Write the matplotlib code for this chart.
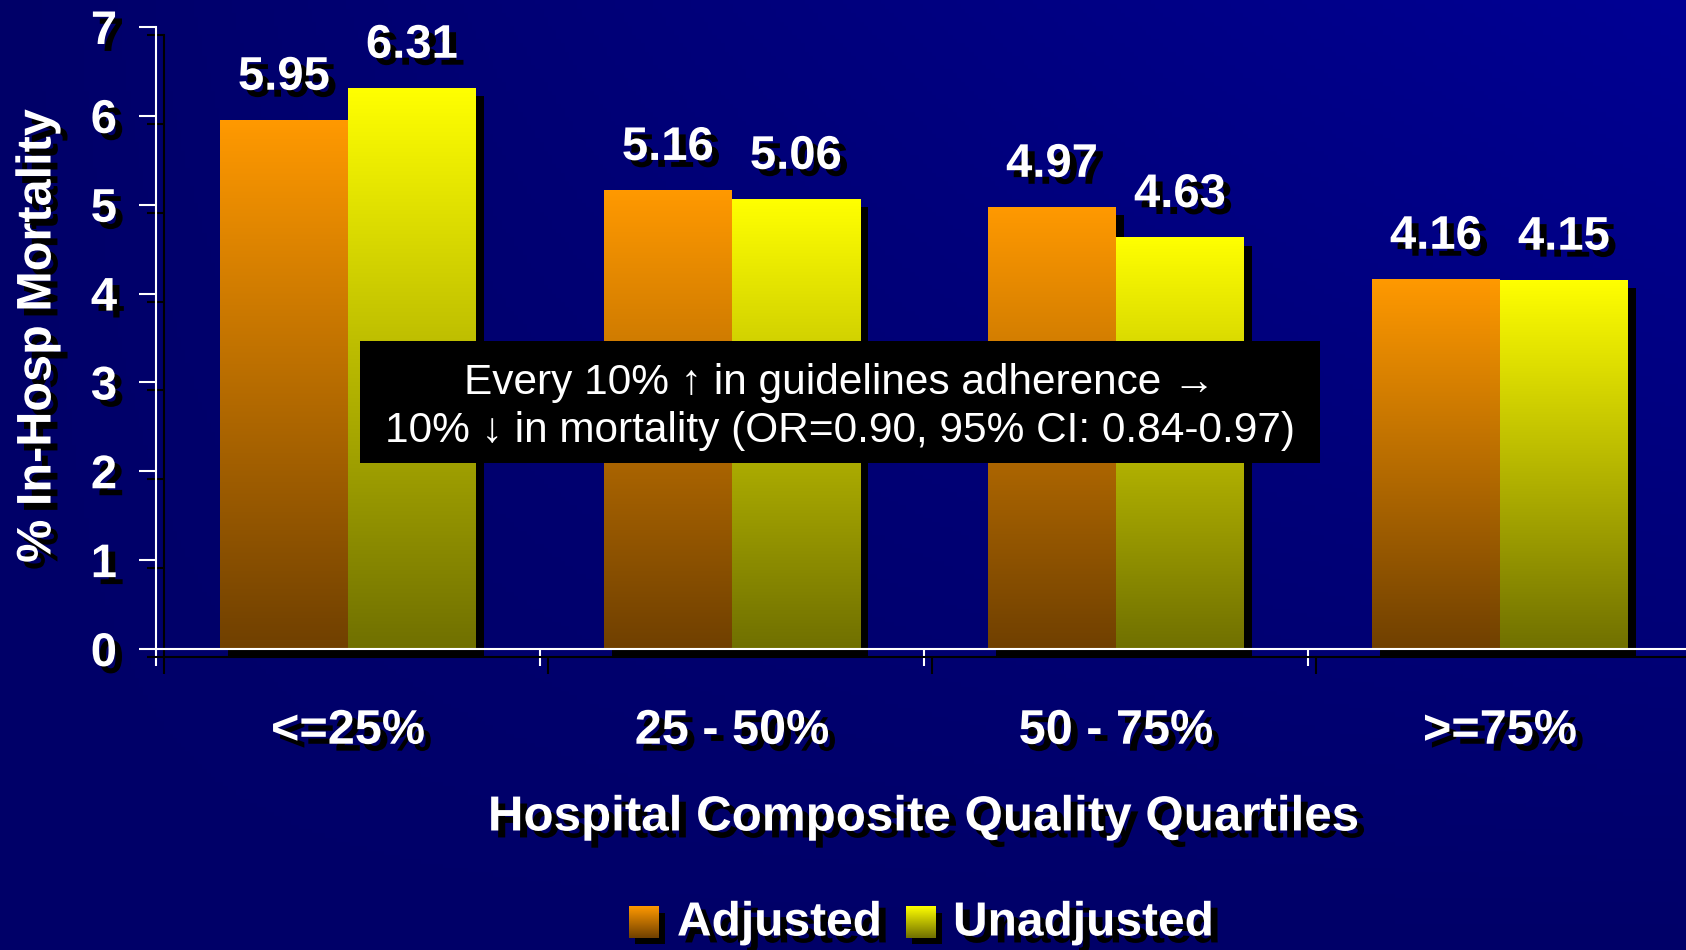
import numpy as np
import matplotlib
matplotlib.use("Agg")
import matplotlib.pyplot as plt
import matplotlib.patheffects as pe
from matplotlib.patches import Rectangle
from matplotlib.colors import to_rgb

# data
quartiles = ["<=25%", "25 - 50%", "50 - 75%", ">=75%"]
adjusted = [5.95, 5.16, 4.97, 4.16]
unadjusted = [6.31, 5.06, 4.63, 4.15]
series_names = ["Adjusted", "Unadjusted"]
y_ticks = [0, 1, 2, 3, 4, 5, 6, 7]
note = ("Every 10% \u2191 in guidelines adherence \u2192\n"
        "10% \u2193 in mortality (OR=0.90, 95% CI: 0.84-0.97)")

plt.rcParams["font.family"] = ["Liberation Sans", "DejaVu Sans"]
plt.rcParams["font.weight"] = "bold"

W, H, DPI = 1686, 950, 100
fig = plt.figure(figsize=(W / DPI, H / DPI), dpi=DPI)

text_shadow = [pe.SimplePatchShadow(offset=(5, -5), shadow_rgbFace="black", alpha=1), pe.Normal()]
line_shadow = [pe.SimpleLineShadow(offset=(5.8, -5.8), shadow_color="black", alpha=1), pe.Normal()]
bar_shadow = [pe.SimplePatchShadow(offset=(5.8, -5.8), shadow_rgbFace="black", alpha=1), pe.Normal()]

# navy background, lighter towards the top right
bg = fig.add_axes([0, 0, 1, 1], zorder=-10)
gx, gy = np.meshgrid(np.linspace(0, 1, 400), np.linspace(1, 0, 220))
blue = (0x68 + 0x2C * gx * gy) / 255
bg.imshow(np.dstack([np.zeros_like(blue), np.zeros_like(blue), blue]),
          extent=(0, 1, 0, 1), aspect="auto")
bg.axis("off")


def ramp(top, bottom):
    t = np.array(to_rgb(top))
    b = np.array(to_rgb(bottom))
    s = np.linspace(0, 1, 256)[:, None]
    return (t * (1 - s) + b * s)[:, None, :]


orange_grad = ramp("#FF9900", "#704000")
yellow_grad = ramp("#FFFF00", "#707000")

ax = fig.add_axes([156 / W, 301 / H, 1536 / W, 622 / H])
ax.patch.set_visible(False)

x = np.arange(len(quartiles)) + 0.5
bw = 1 / 3
bars_adj = ax.bar(x - bw / 2, adjusted, bw, color="#FF9900", zorder=2, clip_on=False)
bars_unadj = ax.bar(x + bw / 2, unadjusted, bw, color="#FFFF00", zorder=2, clip_on=False)

for bars, grad in [(bars_adj, orange_grad), (bars_unadj, yellow_grad)]:
    for r in bars:
        r.set_path_effects(bar_shadow)
        x0, w, h = r.get_x(), r.get_width(), r.get_height()
        ax.imshow(grad, extent=(x0, x0 + w, 0, h), aspect="auto", zorder=2.5,
                  interpolation="bilinear")
        ax.annotate(f"{h:.2f}", (x0 + w / 2, h), xytext=(0, 22), textcoords="offset points",
                    ha="center", va="baseline", fontsize=34, color="white",
                    path_effects=text_shadow, zorder=5)

ax.set_xlim(0, 4)
ax.set_ylim(0, 7)

for s in ["top", "right"]:
    ax.spines[s].set_visible(False)
for s in ["left", "bottom"]:
    ax.spines[s].set_color("white")
    ax.spines[s].set_linewidth(1.5)
    ax.spines[s].set_zorder(3)
    ax.spines[s].set_path_effects(line_shadow)

ax.set_yticks(y_ticks)
ax.set_xticks(range(5))
ax.set_xticklabels([])
ax.set_xticks(x, minor=True)
ax.set_xticklabels(quartiles, minor=True)
ax.tick_params(which="major", length=12, width=1.5, color="white", direction="out")
ax.tick_params(axis="x", which="minor", length=0, pad=43, labelsize=35, labelcolor="white")
ax.tick_params(axis="y", labelsize=34, labelcolor="white", pad=16)

for t in ax.xaxis.get_major_ticks() + ax.yaxis.get_major_ticks():
    t.tick1line.set_path_effects(line_shadow)
for lab in ax.get_yticklabels() + ax.get_xticklabels(minor=True):
    lab.set_path_effects(text_shadow)

# note box
ax.add_patch(Rectangle((0.531, 2.093), 2.5, 1.373, facecolor="black", edgecolor="none",
                       zorder=6))
ax.text(1.781, 2.72, note, ha="center", va="center", fontsize=30.5, fontweight="normal",
        color="white", linespacing=1.27, zorder=7)

fig.text(38 / W, 1 - 336 / H, "% In-Hosp Mortality", rotation=90, ha="center", va="center",
         fontsize=35, color="white", path_effects=text_shadow)
fig.text(923 / W, 1 - 818 / H, "Hospital Composite Quality Quartiles", ha="center",
         va="center", fontsize=35.5, color="white", path_effects=text_shadow)

# legend
swatches = [(629, orange_grad), (906, yellow_grad)]
label_x = [677, 953]
for (sx, grad), lx, name in zip(swatches, label_x, series_names):
    bg.add_patch(Rectangle(((sx + 6) / W, 1 - 944 / H), 30 / W, 31 / H,
                           facecolor="black", edgecolor="none", zorder=2))
    bg.imshow(grad, extent=(sx / W, (sx + 30) / W, 1 - 938 / H, 1 - 907 / H),
              aspect="auto", zorder=3)
    fig.text(lx / W, 1 - 923 / H, name, ha="left", va="center", fontsize=34.5,
             color="white", path_effects=text_shadow)
bg.set_xlim(0, 1)
bg.set_ylim(0, 1)

fig.savefig("out.png", dpi=DPI)
